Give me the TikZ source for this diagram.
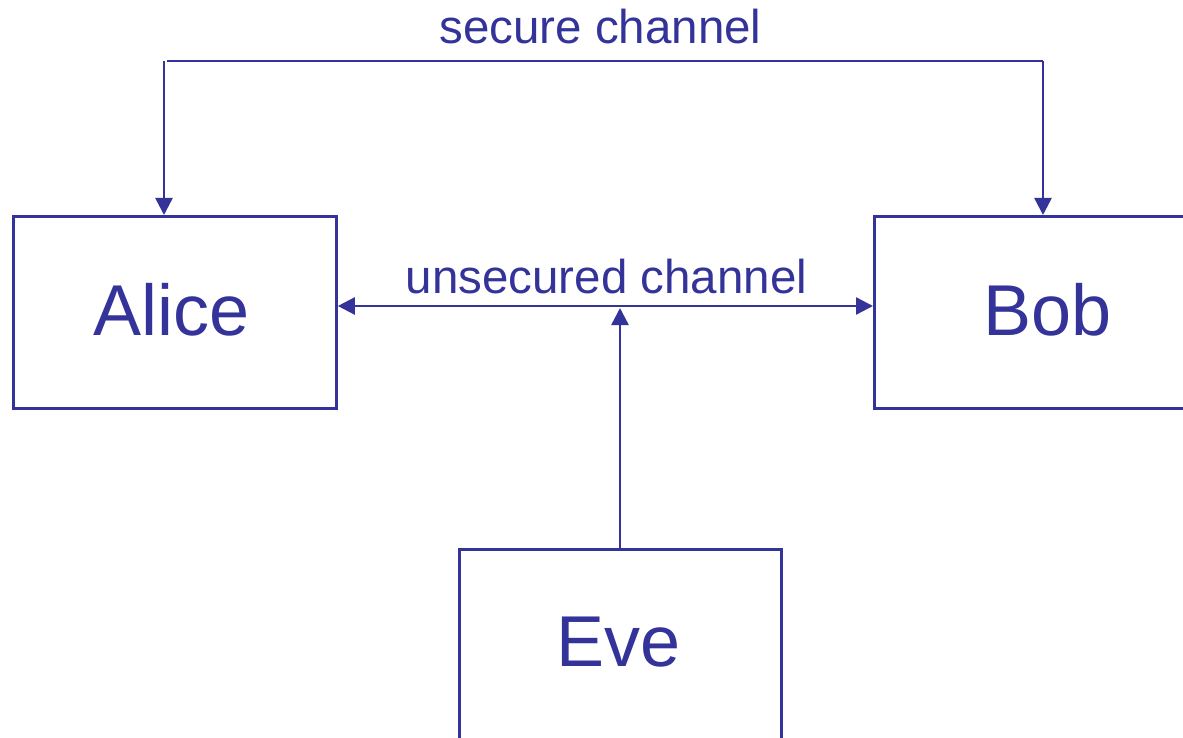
\documentclass[tikz,border=0pt]{standalone}
\usepackage{fontspec}
\setmainfont{Liberation Sans}
\usetikzlibrary{arrows.meta}
\definecolor{ink}{HTML}{333399}
\tikzset{
  party/.style={draw=ink, line width=2.8pt, fill=none},
  wire/.style={draw=ink, line width=2.4pt},
  tip/.style={-{Triangle[length=17pt,width=17pt]}},
  bigtext/.style={text=ink, inner sep=0pt, anchor=base, font=\fontsize{72}{80}\selectfont},
  smalltext/.style={text=ink, inner sep=0pt, anchor=base, font=\fontsize{47.5}{54}\selectfont},
}
\begin{document}
\begin{tikzpicture}[x=1pt,y=-1pt]
\useasboundingbox (0,0) rectangle (1183,738);
\clip (0,0) rectangle (1183,738);
% boxes
\node[party, minimum width=323pt, minimum height=192pt, anchor=north west, inner sep=0pt] (alice) at (12,215) {};
\node[party, minimum width=330pt, minimum height=192pt, anchor=north west, inner sep=0pt] (bob) at (873,215) {};
\node[party, minimum width=322pt, minimum height=210pt, anchor=north west, inner sep=0pt] (eve) at (458,548) {};
% labels
\node[bigtext] (alicet) at (171.5,335) {Alice};
\node[bigtext] (bobt) at (1047.5,335) {Bob};
\node[bigtext] (evet) at (619,666) {Eve};
\node[smalltext] (sect) at (600.5,44) {secure channel};
\node[smalltext] (unst) at (606.5,293) {unsecured channel};
% secure channel
\coordinate (sl) at (164,61);
\coordinate (sr) at (1043,61);
\draw[wire] (167,61) -- (sr);
\draw[wire, tip] (sl) -- (sl |- alice.north);
\draw[wire, tip] (sr) -- (sr |- bob.north);
% unsecured channel
\draw[wire, {Triangle[length=17pt,width=17pt]}-{Triangle[length=17pt,width=17pt]}] (alice.east |- 0,306) -- (bob.west |- 0,306);
\coordinate (mid) at (620,308);
\draw[wire, tip] (eve.north -| mid) -- (mid);
\end{tikzpicture}
\end{document}
